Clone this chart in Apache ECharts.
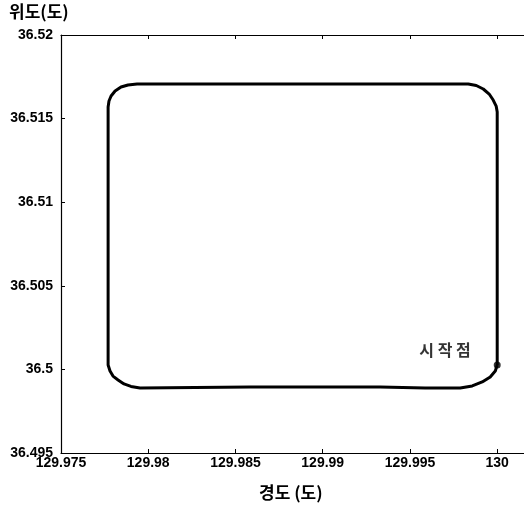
<!DOCTYPE html>
<html><head><meta charset="utf-8">
<script src="https://cdn.jsdelivr.net/npm/echarts@6/dist/echarts.min.js"></script>
<style>html,body{margin:0;padding:0;background:#fff;overflow:hidden}#c{width:532px;height:508px}</style>
</head><body><div id="c"></div>
<script>
// Track (longitude, latitude)
const trackLon = [130.00000,130.00000,130.00000,130.00000,129.99994,129.99977,129.99954,129.99920,129.99880,129.99834,129.99444,129.98870,129.98297,129.97936,129.97884,129.97844,129.97810,129.97787,129.97775,129.97770,129.97770,129.97770,129.97770,129.97781,129.97798,129.97827,129.97861,129.97901,129.97953,129.98584,129.99329,129.99587,129.99788,129.99857,129.99914,129.99960,129.99989,130.00000];
const trackLat = [36.50026,36.50415,36.51013,36.51539,36.51575,36.51611,36.51647,36.51677,36.51698,36.51707,36.51707,36.51707,36.51707,36.51707,36.51701,36.51689,36.51665,36.51635,36.51605,36.51569,36.51013,36.50415,36.50026,36.49990,36.49960,36.49937,36.49913,36.49898,36.49889,36.49895,36.49895,36.49889,36.49889,36.49901,36.49925,36.49955,36.49990,36.50026];
const startPoint = [130.00000, 36.50026];
const startLabel = '시 작 점';
const xTitle = '경도 (도)';
const yTitle = '위도(도)';
const xMin = 129.975, xMax = 130.00165, xStep = 0.005;
const yMin = 36.495, yMax = 36.52, yStep = 0.005;

const font = "'Liberation Sans Narrow','Arial Narrow','Liberation Sans',Arial,sans-serif";
const kfont = "'Noto Sans CJK KR',sans-serif";
const fmt = v => String(+v.toFixed(3));
const chart = echarts.init(document.getElementById('c'));
const axisCommon = {
  axisLine:{show:true,onZero:false,lineStyle:{color:'#000',width:1.2}},
  axisTick:{show:true,inside:true,length:4,lineStyle:{color:'#000',width:1}},
  splitLine:{show:false}
};
chart.setOption({
  animation:false,
  grid:{left:61,top:35,right:6,bottom:55,containLabel:false},
  xAxis:[
    Object.assign({type:'value',min:xMin,max:xMax,interval:xStep,position:'bottom',
      axisLabel:{formatter:fmt,showMaxLabel:false,color:'#000',fontFamily:font,fontWeight:'bold',fontSize:14,margin:3}},axisCommon),
    Object.assign({type:'value',min:xMin,max:xMax,interval:xStep,position:'top',
      axisLabel:{show:false}},axisCommon)
  ],
  yAxis:[Object.assign({type:'value',min:yMin,max:yMax,interval:yStep,
      axisLabel:{formatter:fmt,color:'#000',fontFamily:font,fontWeight:'bold',fontSize:14,margin:8}},axisCommon)],
  graphic:[
    {type:'text',left:9,top:3,style:{text:yTitle,font:'bold 17px '+kfont,fill:'#000'}},
    {type:'text',left:259,top:484,style:{text:xTitle,font:'bold 17px '+kfont,fill:'#000'}}
  ],
  series:[
    {type:'line',data:trackLon.map((x,i)=>[x,trackLat[i]]),showSymbol:false,
     lineStyle:{color:'#000',width:3,join:'round'},smooth:false},
    {type:'scatter',data:[startPoint],symbolSize:7,itemStyle:{color:'#000'},
     label:{show:true,formatter:startLabel,position:'left',distance:23,offset:[0,-15],
       color:'#000',fontFamily:kfont,fontWeight:'bold',fontSize:16}}
  ]
});
</script></body></html>
